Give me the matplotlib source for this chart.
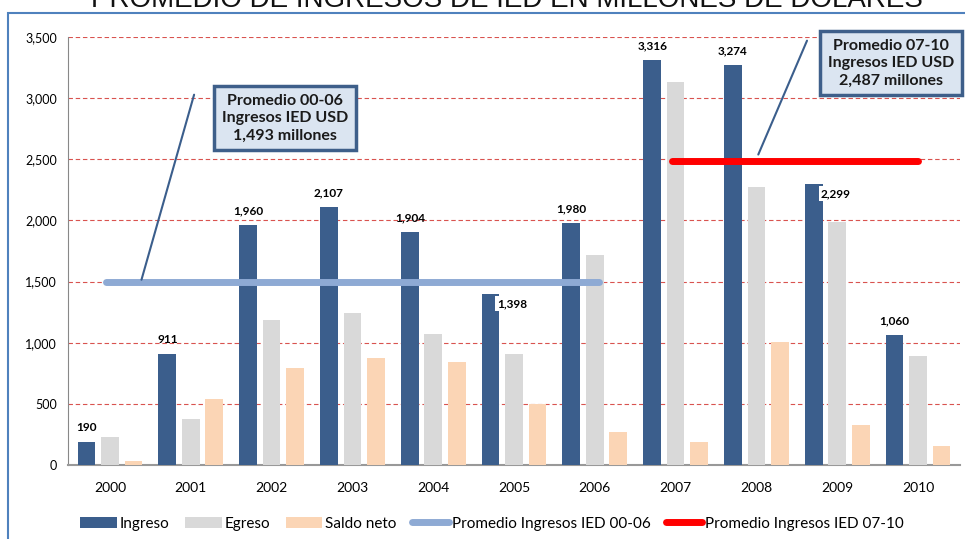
import numpy as np
import matplotlib.pyplot as plt
from matplotlib.patches import Rectangle

plt.rcParams['font.family'] = ['Lato', 'DejaVu Sans']

years = ['2000', '2001', '2002', '2003', '2004', '2005', '2006', '2007', '2008', '2009', '2010']
ingreso = [190, 911, 1960, 2107, 1904, 1398, 1980, 3316, 3274, 2299, 1060]
egreso = [229, 376, 1186, 1243, 1071, 908, 1717, 3131, 2273, 1990, 891]
saldo = [30, 540, 793, 875, 842, 499, 270, 188, 1006, 327, 155]
prom_00_06 = 1493
prom_07_10 = 2487
ingreso_labels = ['190', '911', '1,960', '2,107', '1,904', '1,398', '1,980', '3,316', '3,274', '2,299', '1,060']

c_ing = '#3b5e8c'
c_egr = '#d9d9d9'
c_sal = '#fbd5b5'
c_p1 = '#8eaad4'
c_p2 = '#ff0000'

fig = plt.figure(figsize=(9.65, 5.39), dpi=100)
ax = fig.add_axes([68/965, 1-465/539, (960-68)/965, (465-37)/539])

x = np.arange(len(years))
w = 0.22
off = 0.29
b1 = ax.bar(x - off, ingreso, w, color=c_ing, label='Ingreso', zorder=3)
b2 = ax.bar(x, egreso, w, color=c_egr, label='Egreso', zorder=3)
b3 = ax.bar(x + off, saldo, w, color=c_sal, label='Saldo neto', zorder=3)

l1, = ax.plot([-0.05, 6.05], [prom_00_06, prom_00_06], color=c_p1, lw=5,
              solid_capstyle='round', label='Promedio Ingresos IED 00-06', zorder=4)
l2, = ax.plot([6.95, 10.0], [prom_07_10, prom_07_10], color=c_p2, lw=5,
              solid_capstyle='round', label='Promedio Ingresos IED 07-10', zorder=4)

for i, v in enumerate(ingreso):
    if years[i] in ('2005', '2009'):
        ax.text(x[i] - off + 0.085, v - 80, ingreso_labels[i], ha='left', va='center',
                fontsize=8.5, fontweight='bold', zorder=5,
                bbox=dict(facecolor='white', edgecolor='none', pad=1.5))
    else:
        ax.text(x[i] - off, v + 70, ingreso_labels[i], ha='center', va='bottom',
                fontsize=8.5, fontweight='bold', zorder=5)

ax.set_xlim(-0.52, 10.52)
ax.set_ylim(0, 3500)
ax.set_yticks(np.arange(0, 3501, 500))
ax.set_yticklabels(['{:,}'.format(t) for t in range(0, 3501, 500)], fontsize=9)
ax.set_xticks(x)
ax.set_xticklabels(years, fontsize=10)
ax.tick_params(axis='both', length=0)
ax.tick_params(axis='x', pad=12)
ax.tick_params(axis='y', pad=8)
ax.grid(axis='y', color='#d9534f', ls=(0, (4, 2.5)), lw=0.8, zorder=0)
for s in ['top', 'right']:
    ax.spines[s].set_visible(False)
ax.spines['left'].set_color('#888888')
ax.spines['bottom'].set_color('#999999')
ax.spines['bottom'].set_linewidth(1.5)

# callouts
ax.annotate('', xy=(0.38, 1493), xytext=(1.05, 3050),
            arrowprops=dict(arrowstyle='-', color='#3b5e8c', lw=1.5), zorder=6)
ax.text(2.17, 2837, 'Promedio 00-06\nIngresos IED USD\n1,493 millones', ha='center', va='center',
        fontsize=11.5, fontweight='bold', color='#1a1a1a', linespacing=1.3, zorder=7,
        bbox=dict(boxstyle='square,pad=0.5', facecolor='#dbe5f1', edgecolor='#3e5f8a', lw=2.5))
ax.annotate('', xy=(8.01, 2518), xytext=(8.64, 3491),
            arrowprops=dict(arrowstyle='-', color='#3b5e8c', lw=1.5), zorder=6,
            annotation_clip=False)
ax.text(9.67, 3287, 'Promedio 07-10\nIngresos IED USD\n2,487 millones', ha='center', va='center',
        fontsize=11.5, fontweight='bold', color='#1a1a1a', linespacing=1.3, zorder=7,
        clip_on=False,
        bbox=dict(boxstyle='square,pad=0.5', facecolor='#dbe5f1', edgecolor='#3e5f8a', lw=2.5))

fig.legend(handles=[b1, b2, b3, l1, l2], loc='lower center', bbox_to_anchor=(0.51, -0.01),
           ncol=5, frameon=False, fontsize=11, handlelength=2.4, handleheight=0.7,
           columnspacing=1.0, handletextpad=0.2)

# chart frame
fig.add_artist(Rectangle((8/965, -0.05), 1.1, 1 - 13/539 + 0.05, transform=fig.transFigure,
                         fill=False, edgecolor='#4f81bd', lw=1.5))

fig.text(0.525, 1.0, 'PROMEDIO DE INGRESOS DE IED EN MILLONES DE DOLARES', ha='center', va='center',
         fontsize=20, family='Liberation Sans', color='#111111')

fig.savefig('out.png', dpi=100)
